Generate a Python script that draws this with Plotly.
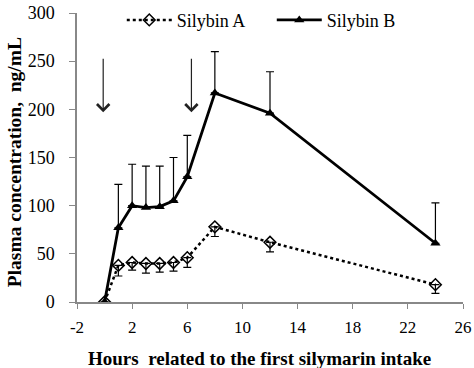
import plotly.graph_objects as go

hours = [0, 1, 2, 3, 4, 5, 6, 8, 12, 24]
silybin_a = [0, 38, 41, 40, 40, 41, 46, 78, 62, 18]
silybin_a_err = [0, 11, 8, 10, 9, 9, 10, 10, 10, 9]
silybin_b = [0, 77, 100, 98, 99, 105, 130, 217, 196, 61]
silybin_b_err = [0, 45, 43, 43, 42, 45, 43, 43, 43, 42]
arrow_x = [-0.1, 6.3]
arrow_y_tail = [254, 254]
arrow_y_head = [197, 197]
x_ticks = [-2, 2, 6, 10, 14, 18, 22, 26]
x_tick_labels = ["-2", "2", "6", "10", "14", "18", "22", "26"]
y_ticks = [0, 50, 100, 150, 200, 250, 300]

serif = "Liberation Serif, Times New Roman, serif"

fig = go.Figure()
fig.add_trace(go.Scatter(
    x=hours, y=silybin_a, name="Silybin A", mode="lines+markers",
    line=dict(color="black", width=2.5, dash="dot"),
    marker=dict(symbol="diamond-open", size=9, color="black", line=dict(width=1.5)),
    error_y=dict(type="data", symmetric=False, array=[0]*len(hours), arrayminus=silybin_a_err,
                 color="black", thickness=1.2, width=4),
))
fig.add_trace(go.Scatter(
    x=hours, y=silybin_b, name="Silybin B", mode="lines+markers",
    line=dict(color="black", width=2.8),
    marker=dict(symbol="triangle-up", size=9, color="black"),
    error_y=dict(type="data", symmetric=False, array=silybin_b_err, arrayminus=[0]*len(hours),
                 color="black", thickness=1.2, width=4),
))

for xa, yt, yh in zip(arrow_x, arrow_y_tail, arrow_y_head):
    fig.add_annotation(x=xa, y=yh, ax=xa, ay=yt, xref="x", yref="y", axref="x", ayref="y",
                       text="", showarrow=True, arrowhead=4, arrowsize=2.0, arrowwidth=1.2,
                       arrowcolor="#222")

fig.add_annotation(text="<b>Plasma concentration,  ng/mL</b>", textangle=-90,
                   xref="paper", yref="paper", x=-0.163, y=0.484, xanchor="center", yanchor="middle",
                   showarrow=False, font=dict(size=19.5, family=serif, color="black"))
fig.add_annotation(text="<b>Hours  related to the first silymarin intake</b>",
                   xref="paper", yref="paper", x=0.474, y=-0.194, xanchor="center", yanchor="middle",
                   showarrow=False, font=dict(size=19, family=serif, color="black"))

fig.update_layout(
    width=474, height=368,
    margin=dict(l=77, r=11, t=13, b=66, autoexpand=False),
    plot_bgcolor="white", paper_bgcolor="white",
    font=dict(family=serif, size=17, color="black"),
    legend=dict(orientation="h", x=0.116, y=0.975, xanchor="left", yanchor="middle",
                font=dict(size=18, family=serif, color="black"), bgcolor="rgba(0,0,0,0)",
                itemwidth=45, entrywidth=90, tracegroupgap=0),
    showlegend=True,
)
fig.update_xaxes(range=[-2, 26], tickvals=x_ticks, ticktext=x_tick_labels, showgrid=False, zeroline=False,
                 showline=True, linecolor="#888", linewidth=1.5, ticks="outside",
                 ticklen=5, tickcolor="#888", tickfont=dict(size=17, family=serif),
                 ticklabelstandoff=4, automargin=False)
fig.update_yaxes(range=[0, 300], tickvals=y_ticks, showgrid=False, zeroline=False,
                 showline=True, linecolor="#888", linewidth=1.5, ticks="outside",
                 ticklen=6, tickcolor="#888", tickfont=dict(size=18, family=serif),
                 ticklabelstandoff=11, automargin=False)

fig.write_html("out.html", post_script="document.body.style.margin='0';",
               config={"displayModeBar": False})
